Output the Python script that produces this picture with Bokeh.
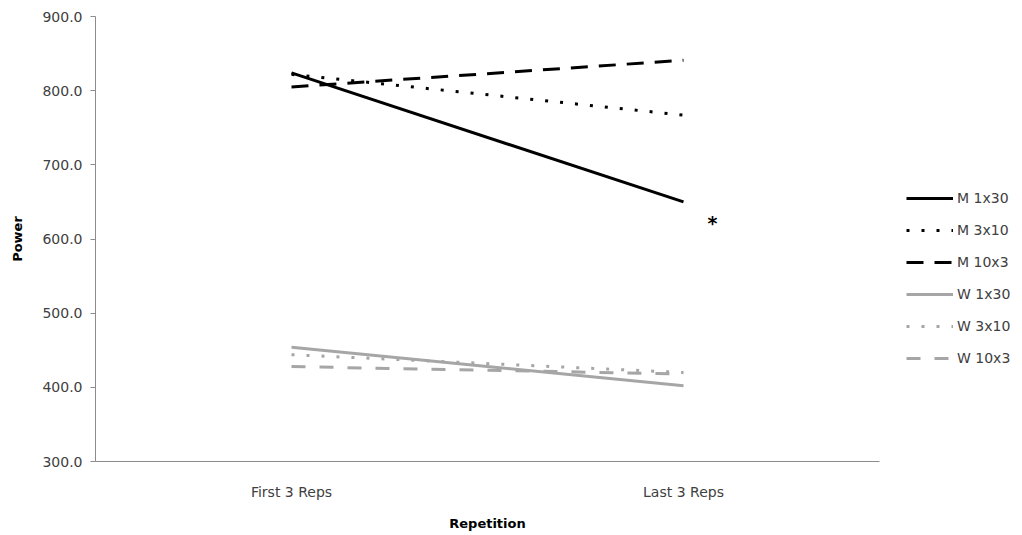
from bokeh.plotting import figure
from bokeh.models import FactorRange, Range1d, Legend, LegendItem, FixedTicker, PrintfTickFormatter
from bokeh.core.properties import value
from bokeh.embed import file_html
from bokeh.resources import INLINE

categories = ["First 3 Reps", "Last 3 Reps"]
series_names = ["M 1x30", "M 3x10", "M 10x3", "W 1x30", "W 3x10", "W 10x3"]
m_1x30 = [824, 650]
m_3x10 = [822, 767]
m_10x3 = [805, 841]
w_1x30 = [454, 402]
w_3x10 = [444, 420]
w_10x3 = [428, 418]
y_ticks = [300, 400, 500, 600, 700, 800, 900]
star_point = ("Last 3 Reps", 622)

FONT = "DejaVu Sans"
FS = "14px"

p = figure(frame_width=784, frame_height=445, output_backend="svg", toolbar_location=None,
           x_range=FactorRange(*categories, range_padding=0),
           y_range=Range1d(300, 900),
           min_border_left=95, min_border_top=16, min_border_bottom=74, min_border_right=143)
p.outline_line_color = None
p.xgrid.grid_line_color = None
p.ygrid.grid_line_color = None
p.background_fill_color = "white"
p.border_fill_color = "white"

black = "#000000"
grey = "#a6a6a6"
styles = [
    (m_1x30, black, "solid"),
    (m_3x10, black, "3 12"),
    (m_10x3, black, "17 11"),
    (w_1x30, grey, "solid"),
    (w_3x10, grey, "3 12"),
    (w_10x3, grey, "14 14"),
]
items = []
for name, (vals, col, dash) in zip(series_names, styles):
    r = p.line(x=categories, y=vals, line_color=col, line_width=3, line_dash=dash)
    items.append(LegendItem(label=name, renderers=[r]))

p.text(x=[star_point[0]], y=[star_point[1]], text=["*"], x_offset=29,
       text_align="center", text_baseline="middle", text_font=value(FONT),
       text_font_size="19px", text_font_style="bold", text_color="#000000")

legend = Legend(items=items, location=(27, 93), orientation="vertical")
legend.border_line_color = None
legend.background_fill_alpha = 0
legend.padding = 0
legend.margin = 0
legend.spacing = 12
legend.glyph_width = 47
legend.glyph_height = 20
legend.label_height = 20
legend.label_standoff = 4
legend.label_text_font = FONT
legend.label_text_font_size = FS
legend.label_text_color = "#404040"
p.add_layout(legend, "right")

ya = p.yaxis[0]
ya.ticker = FixedTicker(ticks=y_ticks)
ya.formatter = PrintfTickFormatter(format="%.1f")
ya.axis_line_color = "#8c8c8c"
ya.major_tick_line_color = "#8c8c8c"
ya.major_tick_out = 5
ya.major_tick_in = 0
ya.minor_tick_line_color = None
ya.major_label_text_font = FONT
ya.major_label_text_font_size = FS
ya.major_label_text_color = "#404040"
ya.major_label_standoff = 8
ya.axis_label = "Power"
ya.axis_label_text_font = FONT
ya.axis_label_text_font_size = "13px"
ya.axis_label_text_font_style = "bold"
ya.axis_label_text_color = "#000000"
ya.axis_label_standoff = 14

xa = p.xaxis[0]
xa.axis_line_color = "#8c8c8c"
xa.major_tick_line_color = None
xa.major_tick_out = 0
xa.major_tick_in = 0
xa.minor_tick_line_color = None
xa.major_label_text_font = FONT
xa.major_label_text_font_size = FS
xa.major_label_text_color = "#404040"
xa.major_label_standoff = 22
xa.axis_label = "Repetition"
xa.axis_label_text_font = FONT
xa.axis_label_text_font_size = "13px"
xa.axis_label_text_font_style = "bold"
xa.axis_label_text_color = "#000000"
xa.axis_label_standoff = 13

open("out.html", "w").write(file_html(p, INLINE))
